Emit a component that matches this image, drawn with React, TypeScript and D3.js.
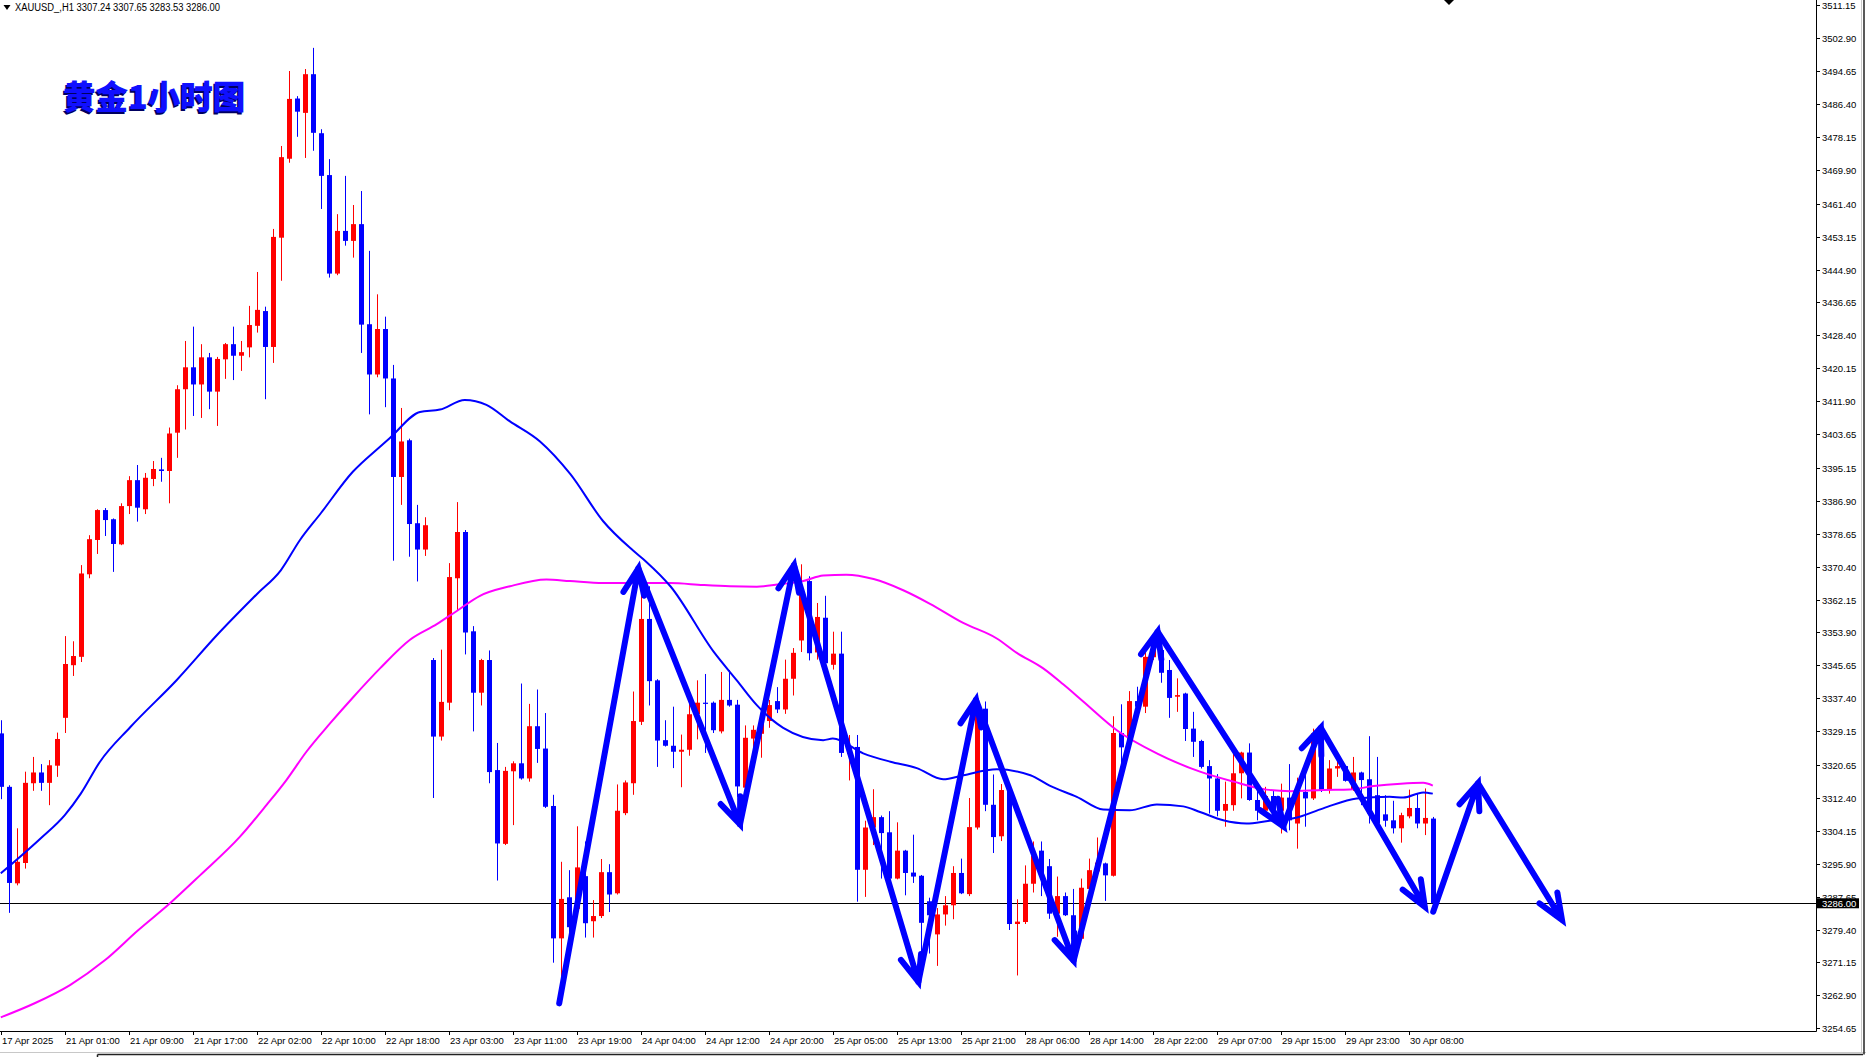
import React from 'react';
import * as d3 from 'd3';

// ---------- DATA ----------
const symbolHeader = 'XAUUSD_,H1  3307.24 3307.65 3283.53 3286.00';
const chartTitle = '黄金1小时图';
const lastPrice = 3286.0;

const openPrices = [
  3328.6, 3315.2, 3291.0, 3296.1, 3316.1, 3318.8, 3316.2, 3320.5, 3332.5, 3345.7,
  3347.8, 3368.5, 3377.1, 3384.6, 3382.3, 3376.0, 3385.6, 3392.1, 3384.8, 3392.4,
  3394.8, 3394.4, 3404.0, 3414.9, 3420.4, 3416.1, 3422.9, 3414.3, 3422.4, 3426.2,
  3423.3, 3425.4, 3430.8, 3434.5, 3425.5, 3452.9, 3472.7, 3487.8, 3484.2, 3493.9,
  3479.1, 3468.6, 3443.9, 3454.6, 3452.1, 3456.3, 3431.2, 3418.6, 3430.0, 3417.6,
  3392.9, 3402.1, 3381.3, 3374.7, 3347.0, 3327.8, 3336.3, 3367.5, 3379.1, 3354.2,
  3338.8, 3347.0, 3319.4, 3300.9, 3319.1, 3321.1, 3317.3, 3330.4, 3324.8, 3310.4,
  3277.2, 3287.5, 3284.6, 3292.8, 3281.5, 3282.8, 3293.8, 3288.5, 3308.6, 3316.1,
  3331.5, 3357.3, 3341.9, 3326.9, 3325.5, 3324.0, 3324.5, 3333.4, 3336.3, 3336.3,
  3329.1, 3337.0, 3335.8, 3315.0, 3327.3, 3328.5, 3331.7, 3336.7, 3334.6, 3342.3,
  3351.9, 3366.8, 3348.9, 3357.6, 3345.8, 3348.6, 3323.4, 3325.2, 3294.4, 3305.0,
  3307.6, 3303.8, 3292.2, 3299.2, 3293.7, 3292.9, 3286.5, 3278.2, 3283.2, 3285.5,
  3293.6, 3288.3, 3305.0, 3334.8, 3310.7, 3302.8, 3314.6, 3280.8, 3281.3, 3290.9,
  3299.2, 3295.3, 3283.4, 3287.8, 3283.0, 3277.1, 3289.6, 3294.0, 3296.0, 3292.9,
  3328.7, 3326.1, 3336.7, 3335.3, 3347.7, 3349.5, 3344.5, 3337.8, 3338.6, 3329.8,
  3326.7, 3320.4, 3317.3, 3309.2, 3310.6, 3318.6, 3323.8, 3311.9, 3309.2, 3312.9,
  3309.2, 3312.5, 3306.0, 3313.9, 3312.3, 3325.7, 3314.4, 3319.8, 3320.4, 3314.4,
  3318.8, 3317.1, 3313.1, 3308.3, 3306.8, 3304.8, 3307.8, 3309.9, 3306.0, 3307.24,
];
const highPrices = [
  3331.9, 3315.6, 3304.8, 3319.0, 3322.7, 3320.9, 3321.9, 3328.8, 3353.0, 3351.7,
  3370.8, 3378.3, 3384.8, 3385.1, 3382.5, 3386.3, 3393.1, 3395.9, 3393.9, 3396.9,
  3397.7, 3405.3, 3415.9, 3427.0, 3430.6, 3426.2, 3424.0, 3423.0, 3426.5, 3430.6,
  3427.0, 3435.8, 3444.3, 3435.6, 3455.1, 3475.9, 3494.7, 3488.4, 3495.2, 3500.5,
  3480.1, 3472.6, 3458.8, 3468.4, 3461.1, 3464.6, 3449.6, 3438.7, 3433.1, 3421.0,
  3410.2, 3402.5, 3385.9, 3382.8, 3347.5, 3349.6, 3371.3, 3386.6, 3379.6, 3355.5,
  3347.3, 3349.4, 3326.2, 3320.2, 3321.6, 3341.1, 3336.0, 3339.6, 3333.7, 3313.2,
  3296.4, 3294.3, 3305.3, 3301.5, 3286.8, 3297.1, 3295.8, 3315.8, 3316.8, 3339.1,
  3364.4, 3365.5, 3342.2, 3331.9, 3335.3, 3328.3, 3336.8, 3341.9, 3343.5, 3336.6,
  3344.0, 3344.5, 3337.0, 3330.6, 3330.6, 3334.8, 3337.0, 3340.2, 3347.1, 3350.0,
  3371.0, 3368.0, 3361.3, 3363.1, 3354.1, 3354.1, 3328.2, 3328.2, 3306.7, 3314.6,
  3308.0, 3309.1, 3306.3, 3299.4, 3303.2, 3293.1, 3287.4, 3284.8, 3287.8, 3295.3,
  3297.2, 3312.4, 3336.7, 3336.6, 3318.3, 3315.9, 3315.9, 3287.0, 3295.5, 3301.5,
  3301.5, 3297.1, 3292.7, 3288.7, 3289.6, 3292.2, 3297.2, 3302.5, 3296.2, 3332.9,
  3335.9, 3339.2, 3340.3, 3349.5, 3353.7, 3351.2, 3347.0, 3342.4, 3338.8, 3334.0,
  3327.0, 3321.9, 3318.4, 3316.5, 3324.0, 3324.0, 3326.1, 3315.2, 3315.2, 3314.4,
  3316.0, 3320.9, 3317.5, 3320.2, 3329.8, 3327.7, 3321.9, 3322.7, 3320.6, 3322.7,
  3319.0, 3327.9, 3322.7, 3313.1, 3311.7, 3308.7, 3314.5, 3313.5, 3314.8, 3307.65,
];
const lowPrices = [
  3312.1, 3283.6, 3290.5, 3294.7, 3314.2, 3314.2, 3310.6, 3317.7, 3328.7, 3343.0,
  3346.5, 3367.5, 3373.6, 3378.1, 3369.1, 3375.8, 3383.6, 3381.7, 3383.6, 3390.6,
  3391.7, 3386.3, 3397.7, 3404.8, 3408.2, 3407.7, 3409.9, 3405.7, 3417.5, 3417.2,
  3419.5, 3422.9, 3429.1, 3412.4, 3421.5, 3442.1, 3471.7, 3478.2, 3472.9, 3474.7,
  3460.1, 3442.9, 3443.5, 3450.9, 3447.9, 3424.0, 3408.6, 3417.9, 3410.4, 3371.9,
  3385.9, 3372.9, 3366.7, 3373.1, 3312.4, 3326.8, 3334.4, 3359.3, 3348.4, 3329.1,
  3335.6, 3316.1, 3291.7, 3300.6, 3305.6, 3317.0, 3316.5, 3321.2, 3309.9, 3271.1,
  3260.7, 3272.3, 3283.5, 3277.4, 3277.4, 3282.3, 3283.8, 3288.2, 3308.1, 3313.2,
  3330.7, 3335.6, 3320.2, 3325.3, 3319.9, 3315.1, 3323.0, 3327.1, 3323.7, 3328.7,
  3328.6, 3335.3, 3312.7, 3314.8, 3323.8, 3322.5, 3330.0, 3333.7, 3333.5, 3338.1,
  3349.0, 3346.9, 3347.1, 3346.0, 3344.6, 3322.7, 3316.8, 3286.4, 3287.6, 3300.6,
  3292.2, 3292.0, 3292.0, 3288.0, 3291.1, 3273.0, 3273.4, 3270.3, 3280.4, 3282.0,
  3288.3, 3287.8, 3304.5, 3309.1, 3298.6, 3301.6, 3279.3, 3267.9, 3280.8, 3288.7,
  3287.8, 3282.1, 3277.6, 3282.8, 3272.5, 3276.9, 3287.4, 3293.8, 3286.6, 3292.7,
  3318.6, 3325.6, 3334.0, 3333.7, 3347.0, 3341.3, 3332.5, 3334.0, 3326.7, 3322.7,
  3319.8, 3308.5, 3307.8, 3305.2, 3309.2, 3312.3, 3311.7, 3306.8, 3308.1, 3308.1,
  3303.5, 3304.3, 3299.7, 3305.2, 3311.9, 3313.9, 3313.5, 3317.7, 3316.5, 3314.2,
  3310.6, 3306.0, 3305.2, 3305.2, 3303.5, 3301.2, 3307.3, 3304.8, 3303.1, 3283.53,
];
const closePrices = [
  3315.2, 3291.1, 3296.4, 3316.2, 3318.8, 3316.2, 3320.6, 3327.2, 3346.0, 3348.0,
  3368.7, 3377.3, 3384.6, 3382.1, 3376.1, 3385.6, 3392.1, 3385.2, 3392.7, 3394.9,
  3394.4, 3403.8, 3414.9, 3420.4, 3416.1, 3422.9, 3414.3, 3422.5, 3426.2, 3423.3,
  3424.2, 3431.0, 3434.8, 3425.5, 3453.1, 3473.1, 3487.7, 3484.5, 3493.9, 3479.2,
  3468.4, 3443.9, 3454.6, 3452.1, 3456.3, 3431.1, 3418.6, 3430.0, 3417.6, 3392.9,
  3401.8, 3381.1, 3374.7, 3380.8, 3327.8, 3336.5, 3367.8, 3379.1, 3353.9, 3338.8,
  3347.0, 3318.9, 3301.0, 3319.2, 3321.1, 3317.3, 3330.4, 3324.7, 3310.2, 3277.2,
  3287.1, 3280.0, 3295.0, 3281.0, 3282.8, 3293.8, 3288.2, 3309.2, 3316.3, 3331.7,
  3357.3, 3341.7, 3326.8, 3325.5, 3324.0, 3324.5, 3333.4, 3336.3, 3336.0, 3329.4,
  3337.0, 3335.6, 3315.3, 3327.5, 3329.5, 3331.7, 3335.7, 3334.6, 3342.3, 3348.8,
  3363.8, 3348.7, 3357.8, 3346.2, 3348.6, 3323.7, 3325.2, 3294.4, 3305.0, 3307.6,
  3303.6, 3292.2, 3299.2, 3293.6, 3292.7, 3281.1, 3283.0, 3283.2, 3285.5, 3293.6,
  3288.5, 3305.1, 3334.8, 3310.7, 3302.6, 3314.4, 3280.8, 3281.4, 3290.9, 3297.9,
  3292.7, 3283.4, 3287.8, 3283.0, 3276.9, 3289.9, 3294.3, 3296.2, 3293.0, 3328.7,
  3325.1, 3336.7, 3335.3, 3347.8, 3351.7, 3343.8, 3337.5, 3338.2, 3329.7, 3326.5,
  3320.2, 3317.3, 3309.2, 3310.9, 3318.6, 3323.8, 3311.9, 3309.2, 3312.9, 3309.2,
  3312.5, 3306.8, 3313.9, 3312.3, 3328.6, 3314.4, 3319.8, 3320.4, 3316.7, 3318.8,
  3316.9, 3308.5, 3306.0, 3306.7, 3304.8, 3308.1, 3309.9, 3306.0, 3307.4, 3286.0,
];

// moving averages: [bar, price]
const blueMA: [number, number][] = [
  [0, 3293.5], [5, 3302.3], [8, 3308.1], [10, 3313.5], [12.4, 3321.5], [16.2, 3330.2],
  [22, 3342.0], [27, 3353.2], [32, 3363.5], [35, 3369.5], [37.4, 3377.1], [40, 3383.8],
  [44, 3394.2], [47.4, 3400.5], [48.7, 3402.8], [52.4, 3409.2], [54.9, 3409.8], [58, 3412.2],
  [60.7, 3411.0], [63.6, 3406.9], [67.4, 3401.8], [71.2, 3393.6], [75.3, 3381.8], [79, 3374.5],
  [80.7, 3371.6], [83.7, 3365.5], [89.1, 3349.1], [92, 3341.9], [94.5, 3335.7], [97.8, 3330.0],
  [102.8, 3326.9], [104, 3327.3], [107.8, 3323.6], [111.2, 3321.5], [114.5, 3319.9],
  [117.8, 3317.1], [120.3, 3318.1], [124.5, 3319.6], [128.7, 3318.1], [131.1, 3315.5],
  [134.5, 3312.7], [137.8, 3309.5], [141.1, 3309.3], [144.5, 3310.8], [147.8, 3310.3],
  [149.9, 3308.9], [152.8, 3306.8], [155.7, 3306.0], [158.6, 3306.7], [161.6, 3307.3],
  [165.3, 3309.8], [169.5, 3312.3], [173.6, 3312.7], [175.3, 3312.5], [177.8, 3313.8], [179, 3313.5],
];
const magentaMA: [number, number][] = [
  [0, 3257.4], [4.3, 3261.0], [8.65, 3265.5], [13, 3271.7], [17.2, 3279.3], [21.15, 3286.0],
  [24.9, 3293.0], [29.9, 3302.7], [33.2, 3310.6], [35.7, 3316.9], [38.2, 3324.0], [41.15, 3331.1],
  [44.1, 3337.8], [47.4, 3344.9], [51.15, 3352.1], [54.5, 3356.0], [57, 3359.3], [59.9, 3363.1],
  [63.65, 3365.5], [68.2, 3367.2], [71.15, 3366.8], [75.3, 3366.3], [79.5, 3366.3], [83.65, 3366.3],
  [87.8, 3365.8], [91.15, 3365.5], [94.5, 3365.4], [97.4, 3366.0], [100.3, 3366.8], [102.8, 3368.2],
  [105.7, 3368.4], [109.1, 3367.3], [112.8, 3364.5], [116.15, 3361.1], [120.3, 3356.3],
  [124.5, 3352.4], [127, 3348.8], [130.3, 3344.9], [132.8, 3340.9], [135.3, 3336.6],
  [139.5, 3329.4], [144.5, 3323.6], [149.9, 3319.0], [154.1, 3316.5], [158.2, 3314.5],
  [161.15, 3314.1], [165.3, 3314.4], [168.6, 3314.5], [171.6, 3315.4], [175, 3316.0],
  [177.8, 3316.2], [179, 3315.5],
];

// hand-drawn zig-zag arrows: [bar, price]
const zigzagArrows: [number, number][] = [
  [69.8, 3260.9], [79.7, 3370.0], [92.4, 3305.8], [99.15, 3370.8], [114.7, 3266.3],
  [121.9, 3337.0], [134.1, 3271.6], [144.6, 3354.1], [160.3, 3305.3], [165.0, 3330.0],
  [178.0, 3285.1],
];
const forecastArrows: [number, number][] = [
  [179.05, 3283.9], [184.65, 3316.1], [195.15, 3281.8],
];

const priceTicks = [
  '3511.15', '3502.90', '3494.65', '3486.40', '3478.15', '3469.90', '3461.40', '3453.15',
  '3444.90', '3436.65', '3428.40', '3420.15', '3411.90', '3403.65', '3395.15', '3386.90',
  '3378.65', '3370.40', '3362.15', '3353.90', '3345.65', '3337.40', '3329.15', '3320.65',
  '3312.40', '3304.15', '3295.90', '3287.65', '3279.40', '3271.15', '3262.90', '3254.65',
];
const timeLabels = [
  '17 Apr 2025', '21 Apr 01:00', '21 Apr 09:00', '21 Apr 17:00', '22 Apr 02:00',
  '22 Apr 10:00', '22 Apr 18:00', '23 Apr 03:00', '23 Apr 11:00', '23 Apr 19:00',
  '24 Apr 04:00', '24 Apr 12:00', '24 Apr 20:00', '25 Apr 05:00', '25 Apr 13:00',
  '25 Apr 21:00', '28 Apr 06:00', '28 Apr 14:00', '28 Apr 22:00', '29 Apr 07:00',
  '29 Apr 15:00', '29 Apr 23:00', '30 Apr 08:00',
];
const barsPerLabel = 8;

// ---------- LAYOUT ----------
const W = 1866;
const H = 1057;
const PLOT_R = 1816;
const PLOT_B = 1031;
const UP = '#ff0000';
const DOWN = '#0000ff';
const FONT = '"Liberation Sans", Arial, sans-serif';

function arrowHead(x1: number, y1: number, x2: number, y2: number, len = 28, ang = 22) {
  const a = Math.atan2(y1 - y2, x1 - x2);
  const r = (ang * Math.PI) / 180;
  return [
    [x2 + len * Math.cos(a + r), y2 + len * Math.sin(a + r)],
    [x2 + len * Math.cos(a - r), y2 + len * Math.sin(a - r)],
  ];
}

export default function App() {
  const x = d3.scaleLinear().domain([0, 1]).range([0.8, 8.8]);
  const y = d3.scaleLinear().domain([3254.65, 3511.15]).range([1028.3, 5.4]);

  const maLine = d3
    .line<[number, number]>()
    .x((d) => x(d[0]))
    .y((d) => y(d[1]))
    .curve(d3.curveMonotoneX);

  const renderChain = (pts: [number, number][], key: string) => {
    const px = pts.map((p) => [x(p[0]), y(p[1])]);
    const els: React.ReactNode[] = [];
    for (let i = 1; i < px.length; i++) {
      const [x1, y1] = px[i - 1];
      const [x2, y2] = px[i];
      const [w1, w2] = arrowHead(x1, y1, x2, y2);
      els.push(
        <path
          key={`${key}-${i}`}
          d={`M${x1},${y1}L${x2},${y2}M${w1[0]},${w1[1]}L${x2},${y2}L${w2[0]},${w2[1]}`}
          fill="none"
          stroke="#0000ff"
          strokeWidth={6}
          strokeLinecap="round"
          strokeLinejoin="miter"
        />
      );
    }
    return els;
  };

  const yLast = y(lastPrice);

  return (
    <div style={{ position: 'absolute', left: 0, top: 0 }}>
      <svg width={W} height={H} style={{ display: 'block', background: '#ffffff' }}>
        <defs>
          <clipPath id="plot">
            <rect x={0} y={0} width={PLOT_R} height={PLOT_B} />
          </clipPath>
        </defs>
        <rect x={0} y={0} width={W} height={H} fill="#ffffff" />

        {/* last price line */}
        <line x1={0} x2={PLOT_R} y1={Math.round(yLast) + 0.5} y2={Math.round(yLast) + 0.5} stroke="#000" strokeWidth={1} />

        <g clipPath="url(#plot)">
          {/* candles */}
          {openPrices.map((o, i) => {
            const c = closePrices[i];
            const hi = highPrices[i];
            const lo = lowPrices[i];
            const col = c >= o ? UP : DOWN;
            const cx = Math.round(x(i)) + 0.5;
            const yt = y(Math.max(o, c));
            const yb = y(Math.min(o, c));
            return (
              <g key={i}>
                <line x1={cx} x2={cx} y1={y(hi)} y2={y(lo)} stroke={col} strokeWidth={1} />
                <rect x={cx - 2.5} y={yt} width={5} height={Math.max(1, yb - yt)} fill={col} />
              </g>
            );
          })}

          {/* moving averages */}
          <path d={maLine(magentaMA) || ''} fill="none" stroke="#ff00ff" strokeWidth={2} />
          <path d={maLine(blueMA) || ''} fill="none" stroke="#0000ff" strokeWidth={2} />

          {/* arrows */}
          {renderChain(zigzagArrows, 'z')}
          {renderChain(forecastArrows, 'f')}
        </g>

        {/* title */}
        <text x={61.5} y={110.5} fontFamily='"Noto Sans CJK SC", sans-serif' fontWeight={900} fontSize={32.5} fill="#000060">
          {chartTitle}
        </text>
        <text x={63} y={109} fontFamily='"Noto Sans CJK SC", sans-serif' fontWeight={900} fontSize={32.5} fill="#1010ff">
          {chartTitle}
        </text>

        {/* header */}
        <polygon points="3.5,5 10.5,5 7,10" fill="#000" />
        <text x={15} y={11} fontFamily={FONT} fontSize={10} fill="#000" textLength={205} lengthAdjust="spacingAndGlyphs">
          {symbolHeader}
        </text>

        {/* top marker */}
        <polygon points="1443,-1 1455,-1 1449,5" fill="#000" />

        {/* axes */}
        <line x1={PLOT_R + 0.5} x2={PLOT_R + 0.5} y1={0} y2={PLOT_B + 0.5} stroke="#000" strokeWidth={1} />
        <line x1={0} x2={PLOT_R + 0.5} y1={PLOT_B + 0.5} y2={PLOT_B + 0.5} stroke="#000" strokeWidth={1} />

        {priceTicks.map((t) => {
          const yy = Math.round(y(parseFloat(t))) + 0.5;
          return (
            <g key={t}>
              <line x1={PLOT_R} x2={PLOT_R + 4} y1={yy} y2={yy} stroke="#000" strokeWidth={1} />
              <text x={PLOT_R + 6} y={yy + 3.5} fontFamily={FONT} fontSize={9.5} fill="#000">
                {t}
              </text>
            </g>
          );
        })}

        {/* last price box */}
        <rect x={PLOT_R + 1} y={yLast - 5} width={42} height={10} fill="#000" />
        <text x={PLOT_R + 6} y={yLast + 3.5} fontFamily={FONT} fontSize={9.5} fill="#fff">
          {lastPrice.toFixed(2)}
        </text>

        {timeLabels.map((t, i) => {
          const xx = Math.round(x(i * barsPerLabel)) + 0.5;
          return (
            <g key={t}>
              <line x1={xx} x2={xx} y1={PLOT_B} y2={PLOT_B + 4} stroke="#000" strokeWidth={1} />
              <text x={xx + 0.5} y={1044} fontFamily={FONT} fontSize={9.5} fill="#000">
                {t}
              </text>
            </g>
          );
        })}

        {/* window borders */}
        <line x1={0} x2={W} y1={1052.5} y2={1052.5} stroke="#c8c8c8" strokeWidth={1} />
        <line x1={97.5} x2={1863} y1={1054.5} y2={1054.5} stroke="#222" strokeWidth={1.5} />
        <line x1={97.5} x2={97.5} y1={1054.5} y2={H} stroke="#222" strokeWidth={1.5} />
        <line x1={1861.5} x2={1861.5} y1={0} y2={1052} stroke="#c8c8c8" strokeWidth={1} />
        <line x1={1864} x2={1864} y1={0} y2={1054.5} stroke="#222" strokeWidth={1.5} />
      </svg>
    </div>
  );
}
